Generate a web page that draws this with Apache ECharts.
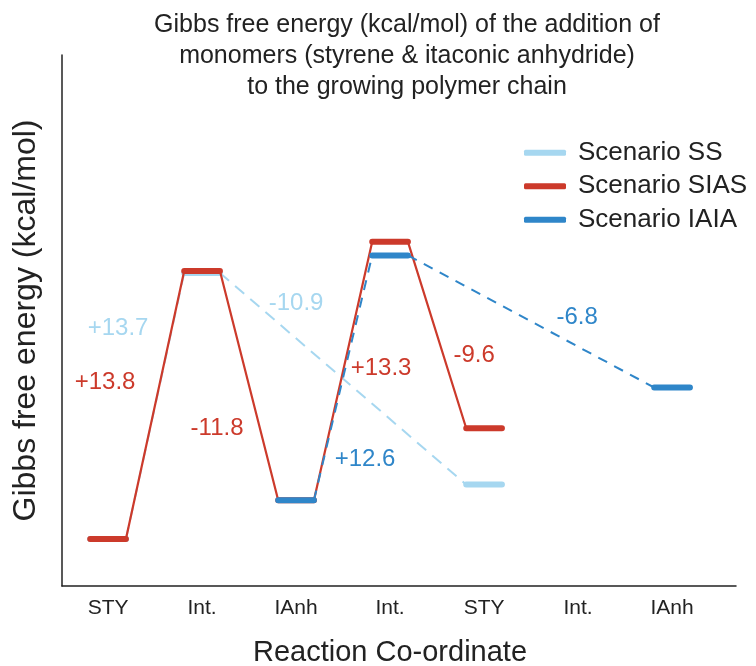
<!DOCTYPE html>
<html>
<head>
<meta charset="utf-8">
<title>Gibbs free energy</title>
<script src="https://cdn.jsdelivr.net/npm/echarts@6/dist/echarts.min.js"></script>
<style>
    html, body { margin: 0; padding: 0; background: #fff; }
    #chart { width: 756px; height: 666px; }
</style>
</head>
<body>
<div id="chart"></div>
<script>
// reaction co-ordinate steps
const steps = ['STY', 'Int.', 'IAnh', 'Int.', 'STY', 'Int.', 'IAnh'];

// energies (kcal/mol) at the steps each scenario visits
const ssSteps = [0, 1, 4];
const ssEnergy = [0, 13.7, 2.8];
const siasSteps = [0, 1, 2, 3, 4];
const siasEnergy = [0, 13.8, 2.0, 15.3, 5.7];
const iaiaSteps = [2, 3, 6];
const iaiaEnergy = [2.0, 14.6, 7.8];

// half width of a level bar, in step units
const HALF = 0.19;

const scenarios = [
    {
        name: 'Scenario SS', steps: ssSteps, energy: ssEnergy,
        color: '#a6d7f0', type: [12, 8], width: 2,
        offsets: [[-37, -78], [-47, -75]], z: 1
    },
    {
        name: 'Scenario SIAS', steps: siasSteps, energy: siasEnergy,
        color: '#cc3a2b', type: 'solid', width: 2.2,
        offsets: [[-50, -23], [-32, 43], [38, -3], [37, 20]], z: 3
    },
    {
        name: 'Scenario IAIA', steps: iaiaSteps, energy: iaiaEnergy,
        color: '#2f86c9', type: [10, 8], width: 2,
        offsets: [[22, 82], [46, -4]], z: 5
    }
];

// horizontal level bars, broken between steps
function levelData(sc) {
    const out = [];
    sc.steps.forEach((s, k) => {
        out.push([s - HALF, sc.energy[k]], [s + HALF, sc.energy[k]], [s + HALF, '-']);
    });
    return out;
}

// connectors from the end of one level to the start of the next
function connectorData(sc) {
    const out = [];
    for (let k = 0; k < sc.steps.length - 1; k++) {
        out.push([sc.steps[k] + HALF, sc.energy[k]],
                 [sc.steps[k + 1] - HALF, sc.energy[k + 1]],
                 [sc.steps[k + 1] - HALF, '-']);
    }
    return out;
}

// energy differences, placed near the middle of each connector
function labelData(sc) {
    const out = [];
    for (let k = 0; k < sc.steps.length - 1; k++) {
        const d = sc.energy[k + 1] - sc.energy[k];
        const mx = (sc.steps[k] + HALF + sc.steps[k + 1] - HALF) / 2;
        const my = (sc.energy[k] + sc.energy[k + 1]) / 2;
        out.push({
            value: [mx, my],
            label: {
                formatter: (d > 0 ? '+' : '') + d.toFixed(1),
                offset: sc.offsets[k]
            }
        });
    }
    return out;
}

const series = [];
scenarios.forEach(sc => {
    series.push({
        name: sc.name + ' step',
        type: 'line',
        data: connectorData(sc),
        showSymbol: false,
        silent: true,
        z: sc.z,
        lineStyle: { color: sc.color, width: sc.width, type: sc.type }
    });
    series.push({
        name: sc.name,
        type: 'line',
        data: levelData(sc),
        showSymbol: false,
        silent: true,
        itemStyle: { color: sc.color },
        z: sc.z + 1,
        lineStyle: { color: sc.color, width: 6, cap: 'round' }
    });
    series.push({
        name: sc.name + ' label',
        type: 'scatter',
        data: labelData(sc),
        symbolSize: 0,
        silent: true,
        z: 10,
        itemStyle: { color: sc.color, opacity: 1 },
        label: {
            show: true,
            position: 'inside',
            color: sc.color,
            opacity: 1,
            textBorderWidth: 0,
            fontSize: 24,
            fontFamily: 'Liberation Sans'
        }
    });
});

const myChart = echarts.init(document.getElementById('chart'));
const option = {
    animation: false,
    backgroundColor: '#fff',
    textStyle: { fontFamily: 'Liberation Sans' },
    title: {
        text: 'Gibbs free energy (kcal/mol) of the addition of\nmonomers (styrene & itaconic anhydride)\nto the growing polymer chain',
        left: 402,
        top: 5,
        textAlign: 'center',
        textStyle: {
            fontSize: 25,
            fontWeight: 'normal',
            color: '#222',
            lineHeight: 31,
            align: 'center'
        }
    },
    legend: {
        data: scenarios.map(sc => sc.name),
        orient: 'vertical',
        left: 519,
        top: 134,
        icon: 'roundRect',
        itemWidth: 42,
        itemHeight: 6,
        itemGap: 6,
        textStyle: {
            fontSize: 26,
            color: '#222',
            lineHeight: 27.5,
            padding: [0, 0, 0, 7]
        }
    },
    grid: { left: 62, right: 20, top: 55, bottom: 80, outerBoundsMode: 'none' },
    xAxis: {
        type: 'value',
        min: -0.49,
        max: 6.68,
        name: 'Reaction Co-ordinate',
        nameLocation: 'middle',
        nameGap: 52,
        nameTextStyle: { fontSize: 29, color: '#222', padding: [0, 18, 0, 0] },
        axisLine: { show: true, onZero: false, lineStyle: { color: '#222', width: 1.5 } },
        axisTick: { show: false },
        splitLine: { show: false },
        axisLabel: {
            customValues: steps.map((s, i) => i),
            formatter: v => steps[Math.round(v)],
            fontSize: 21,
            color: '#222',
            margin: 12
        }
    },
    yAxis: {
        type: 'value',
        min: -2.42,
        max: 24.92,
        name: 'Gibbs free energy (kcal/mol)',
        nameLocation: 'middle',
        nameGap: 20,
        nameTextStyle: { fontSize: 32, color: '#222' },
        axisLine: { show: true, onZero: false, lineStyle: { color: '#222', width: 1.5 } },
        axisTick: { show: false },
        axisLabel: { show: false },
        splitLine: { show: false }
    },
    series: series
};
myChart.setOption(option);
</script>
</body>
</html>
